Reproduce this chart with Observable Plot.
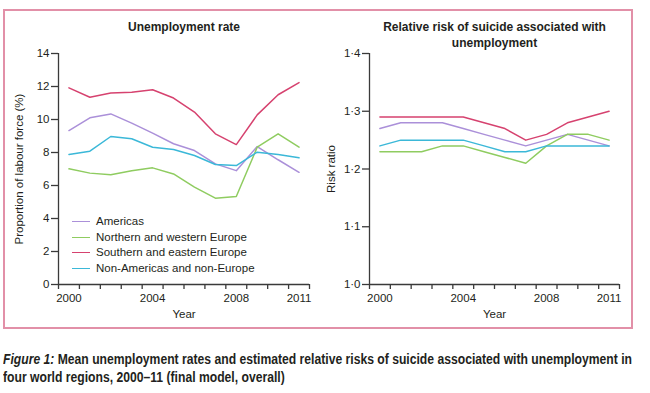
<!DOCTYPE html>
<html>
<head>
<meta charset="utf-8">
<script src="https://cdn.jsdelivr.net/npm/d3@7"></script>
<script src="https://cdn.jsdelivr.net/npm/@observablehq/plot@0.6"></script>
<style>
  html, body { margin: 0; padding: 0; background: #fff; }
  #wrap { position: relative; width: 650px; height: 393px; overflow: hidden; font-family: "Liberation Sans", Arial, sans-serif; color: #231f20; }
  #frame { position: absolute; left: 3px; top: 9px; width: 626px; height: 316px; border: 2px solid #e290a8; }
  .plot { position: absolute; top: 0; }
  #legend { position: absolute; left: 72px; top: 214px; font-size: 11.5px; }
  #legend .row { position: relative; height: 15.7px; line-height: 15.7px; white-space: nowrap; }
  #legend .sw { position: absolute; left: 0; top: 7px; width: 18px; height: 0; }
  #legend .lb { position: absolute; left: 24px; top: 0; }
  #caption { position: absolute; left: 3px; top: 350px; font-family: "Liberation Sans", Arial, sans-serif; font-weight: bold; font-size: 14px; line-height: 18px; white-space: nowrap; color: #231f20; transform-origin: 0 0; }
</style>
</head>
<body>
<div id="wrap">
  <div id="frame"></div>
  <div id="left" class="plot" style="left:0px"></div>
  <div id="right" class="plot" style="left:320px"></div>
  <div id="legend"></div>
  <div id="caption"><span id="cap1"><i>Figure 1:</i> Mean unemployment rates and estimated relative risks of suicide associated with unemployment in</span><br><span>four world regions, 2000–11 (final model, overall)</span></div>
</div>
<script>
const years = [2000, 2001, 2002, 2003, 2004, 2005, 2006, 2007, 2008, 2009, 2010, 2011];
const seriesNames = ["Americas", "Northern and western Europe", "Southern and eastern Europe", "Non-Americas and non-Europe"];
const seriesColors = ["#ab90d9", "#8fcc60", "#d6426f", "#3bb8d8"];

// Unemployment rate (% of labour force)
const unempAmericas = [9.33, 10.1, 10.34, 9.78, 9.17, 8.53, 8.12, 7.31, 6.9, 8.36, 7.56, 6.8];
const unempNorthWest = [7.01, 6.75, 6.65, 6.9, 7.07, 6.7, 5.9, 5.23, 5.33, 8.32, 9.13, 8.32];
const unempSouthEast = [11.92, 11.35, 11.6, 11.65, 11.8, 11.3, 10.45, 9.13, 8.48, 10.28, 11.5, 12.24];
const unempOther = [7.88, 8.08, 8.97, 8.83, 8.32, 8.18, 7.82, 7.27, 7.21, 8.02, 7.88, 7.68];

// Relative risk of suicide associated with unemployment
const riskAmericas = [1.27, 1.28, 1.28, 1.28, 1.27, 1.26, 1.25, 1.24, 1.25, 1.26, 1.25, 1.24];
const riskNorthWest = [1.23, 1.23, 1.23, 1.24, 1.24, 1.23, 1.22, 1.21, 1.24, 1.26, 1.26, 1.25];
const riskSouthEast = [1.29, 1.29, 1.29, 1.29, 1.29, 1.28, 1.27, 1.25, 1.26, 1.28, 1.29, 1.30];
const riskOther = [1.24, 1.25, 1.25, 1.25, 1.25, 1.24, 1.23, 1.23, 1.24, 1.24, 1.24, 1.24];

const yearLabels = [2000, 2004, 2008, 2011];
const unempTicks = [0, 2, 4, 6, 8, 10, 12, 14];
const riskTicks = [1.0, 1.1, 1.2, 1.3, 1.4];

function rows(seriesArrays) {
  const out = [];
  seriesArrays.forEach((arr, i) => arr.forEach((v, j) => out.push({series: seriesNames[i], year: years[j], value: v})));
  return out;
}
const unempRows = rows([unempAmericas, unempNorthWest, unempSouthEast, unempOther]);
const riskRows = rows([riskAmericas, riskNorthWest, riskSouthEast, riskOther]);

const xDomain = [years[0] - 0.5, years[years.length - 1] + 0.5];
const boundaryTicks = d3.range(xDomain[0], xDomain[1] + 0.01, 1);
const axisColor = "#3a3a3a";

function panel({data, yDomain, yTicks, yFormat, yLabel, title, titleDy, marginLeft, marginRight, yLabelOffset}) {
  return Plot.plot({
    width: 320,
    height: 330,
    marginLeft, marginRight,
    marginTop: 53,
    marginBottom: 46,
    x: {domain: xDomain},
    y: {domain: yDomain},
    color: {domain: seriesNames, range: seriesColors},
    style: {fontFamily: "'Liberation Sans', Arial, sans-serif", fontSize: "11.5px", color: "#231f20", background: "transparent", overflow: "visible"},
    marks: [
      Plot.ruleY([yDomain[0]], {stroke: axisColor, strokeWidth: 1.3}),
      Plot.ruleX([xDomain[0]], {stroke: axisColor, strokeWidth: 1.3}),
      Plot.axisY({ticks: yTicks, tickFormat: yFormat, tickSize: 7, tickPadding: 2, stroke: axisColor, strokeWidth: 1.3,
        label: yLabel, labelAnchor: "center", labelArrow: "none", labelOffset: yLabelOffset}),
      Plot.axisX({ticks: boundaryTicks, tickFormat: () => "", tickSize: 5, stroke: axisColor, strokeWidth: 1.3, label: null}),
      Plot.axisX({ticks: yearLabels, tickFormat: d => String(d), tickSize: 0, tickPadding: 9,
        label: "Year", labelAnchor: "center", labelArrow: "none", labelOffset: 33}),
      Plot.line(data, {x: "year", y: "value", stroke: "series", strokeWidth: 1.5}),
      Plot.text([title], {frameAnchor: "top", lineAnchor: "middle", dy: titleDy, fontWeight: "bold", fontSize: 12, lineHeight: 1.35, fill: "#231f20"})
    ]
  });
}

document.getElementById("left").append(panel({
  data: unempRows, yDomain: [0, 14], yTicks: unempTicks, yFormat: d => String(d),
  yLabel: "Proportion of labour force (%)", title: "Unemployment rate", titleDy: -28,
  marginLeft: 58, marginRight: 11, yLabelOffset: 44
}));
document.getElementById("right").append(panel({
  data: riskRows, yDomain: [1.0, 1.4], yTicks: riskTicks, yFormat: d => d.toFixed(1).replace(".", "·"),
  yLabel: "Risk ratio", title: "Relative risk of suicide associated with\nunemployment", titleDy: -20,
  marginLeft: 49, marginRight: 21, yLabelOffset: 43
}));

const legend = document.getElementById("legend");
seriesNames.forEach((name, i) => {
  const row = document.createElement("div");
  row.className = "row";
  row.innerHTML = `<span class="sw" style="border-top:1.6px solid ${seriesColors[i]}"></span><span class="lb">${name}</span>`;
  legend.append(row);
});

// fit the caption's first line to the reference width
const cap = document.getElementById("caption");
const w1 = document.getElementById("cap1").getBoundingClientRect().width;
cap.style.transform = `scaleX(${629 / w1})`;
</script>
</body>
</html>
